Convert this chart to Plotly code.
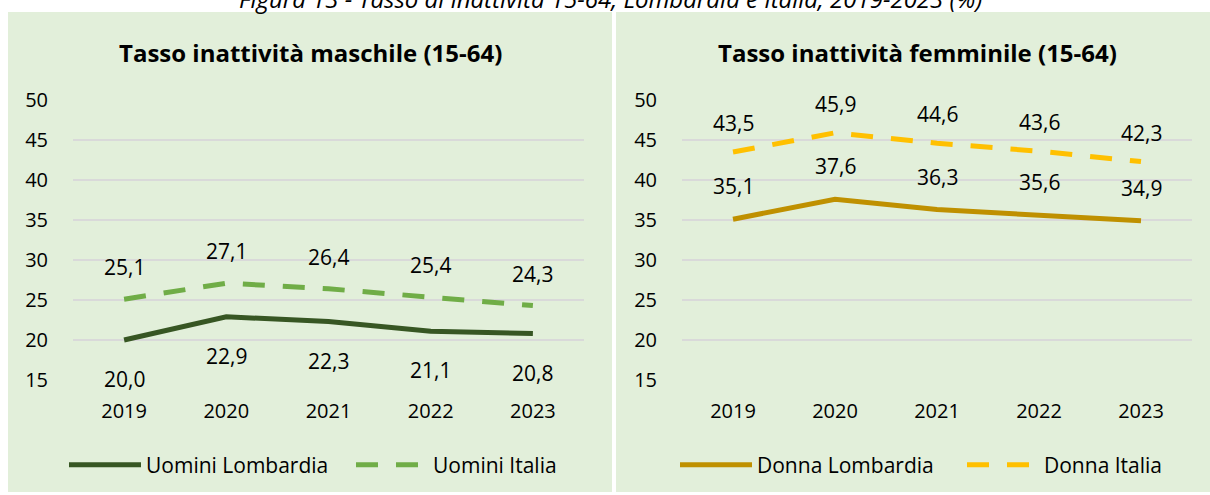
import plotly.graph_objects as go

years = [2019, 2020, 2021, 2022, 2023]
uomini_lombardia = [20.0, 22.9, 22.3, 21.1, 20.8]
uomini_italia = [25.1, 27.1, 26.4, 25.4, 24.3]
donna_lombardia = [35.1, 37.6, 36.3, 35.6, 34.9]
donna_italia = [43.5, 45.9, 44.6, 43.6, 42.3]
y_ticks = [15, 20, 25, 30, 35, 40, 45, 50]

W, H = 1210, 495
FONT = "Open Sans"
BG = "#E2EFDA"

def px_x(p):
    return p / W

def px_y(p):
    return 1 - p / H

fig = go.Figure()

series = [
    ("Uomini Lombardia", uomini_lombardia, "#375623", "solid", "x", "y", "legend", -39),
    ("Uomini Italia", uomini_italia, "#70AD47", "22px,18px", "x", "y", "legend", 32),
    ("Donna Lombardia", donna_lombardia, "#BF9000", "solid", "x2", "y2", "legend2", 33),
    ("Donna Italia", donna_italia, "#FFC000", "22px,18px", "x2", "y2", "legend2", 29),
]

annotations = []
for name, vals, color, dash, xa, ya, leg, shift in series:
    fig.add_trace(go.Scatter(
        x=years, y=vals, name=name, mode="lines",
        line=dict(color=color, width=5, dash=dash),
        xaxis=xa, yaxis=ya, legend=leg, hoverinfo="skip",
    ))
    for yr, v in zip(years, vals):
        annotations.append(dict(
            x=yr, y=v, xref=xa, yref=ya, text=f"{v:.1f}".replace(".", ","),
            showarrow=False, yshift=shift, xanchor="center", yanchor="middle",
            font=dict(family=FONT, size=21, color="#000000"),
        ))

# panel titles
annotations.append(dict(x=px_x(310), y=px_y(52), xref="paper", yref="paper",
                        xanchor="center", yanchor="middle",
                        text="<b>Tasso inattività maschile (15-64)</b>", showarrow=False,
                        font=dict(family=FONT, size=24, color="#000000")))
annotations.append(dict(x=px_x(917), y=px_y(52), xref="paper", yref="paper",
                        xanchor="center", yanchor="middle",
                        text="<b>Tasso inattività femminile (15-64)</b>", showarrow=False,
                        font=dict(family=FONT, size=24, color="#000000")))
# clipped figure caption
annotations.append(dict(x=px_x(610), y=px_y(-1.5), xref="paper", yref="paper",
                        xanchor="center", yanchor="middle",
                        text="<i>Figura 13 - Tasso di inattività 15-64, Lombardia e Italia, 2019-2023 (%)</i>",
                        showarrow=False,
                        font=dict(family=FONT, size=24, color="#000000")))

shapes = [
    dict(type="rect", xref="paper", yref="paper", x0=px_x(8), x1=px_x(612),
         y0=px_y(492), y1=px_y(12), fillcolor=BG, line=dict(width=0), layer="below"),
    dict(type="rect", xref="paper", yref="paper", x0=px_x(616), x1=px_x(1212),
         y0=px_y(492), y1=px_y(12), fillcolor=BG, line=dict(width=0), layer="below"),
]

ydom = [px_y(380), px_y(100)]
axis_font = dict(family=FONT, size=20, color="#000000")
common_y = dict(range=[15, 50], tickvals=y_ticks, showgrid=True, gridcolor="#D9D9D9",
                gridwidth=2, zeroline=False, showline=False, ticks="outside",
                ticklen=20, tickcolor="rgba(0,0,0,0)", tickfont=axis_font,
                fixedrange=True, automargin=False)
common_x = dict(tickvals=years, ticktext=[str(y) for y in years],
                showgrid=False, zeroline=False, showline=False,
                ticks="outside", ticklen=13, tickcolor="rgba(0,0,0,0)",
                tickfont=axis_font, range=[2018.5, 2023.5], fixedrange=True,
                automargin=False)

legend_common = dict(orientation="h", xanchor="left", yanchor="middle",
                     bgcolor="rgba(0,0,0,0)", font=dict(family=FONT, size=21, color="#000000"),
                     itemwidth=72, entrywidth=200, entrywidthmode="pixels")

fig.update_layout(
    width=W, height=H, margin=dict(l=0, r=0, t=0, b=0, pad=0, autoexpand=False),
    paper_bgcolor="white", plot_bgcolor="rgba(0,0,0,0)",
    showlegend=True,
    xaxis=dict(domain=[px_x(73), px_x(584)], anchor="y", **common_x),
    yaxis=dict(domain=ydom, anchor="x", **common_y),
    xaxis2=dict(domain=[px_x(682), px_x(1192)], anchor="y2", **common_x),
    yaxis2=dict(domain=ydom, anchor="x2", **common_y),
    legend=dict(x=px_x(64), y=px_y(465), **legend_common),
    legend2=dict(x=px_x(675), y=px_y(465), **legend_common),
    annotations=annotations,
    shapes=shapes,
)

fig.write_html(
    "out.html",
    config={"displayModeBar": False},
    post_script="document.body.style.margin='0px';document.body.style.overflow='hidden';",
)
